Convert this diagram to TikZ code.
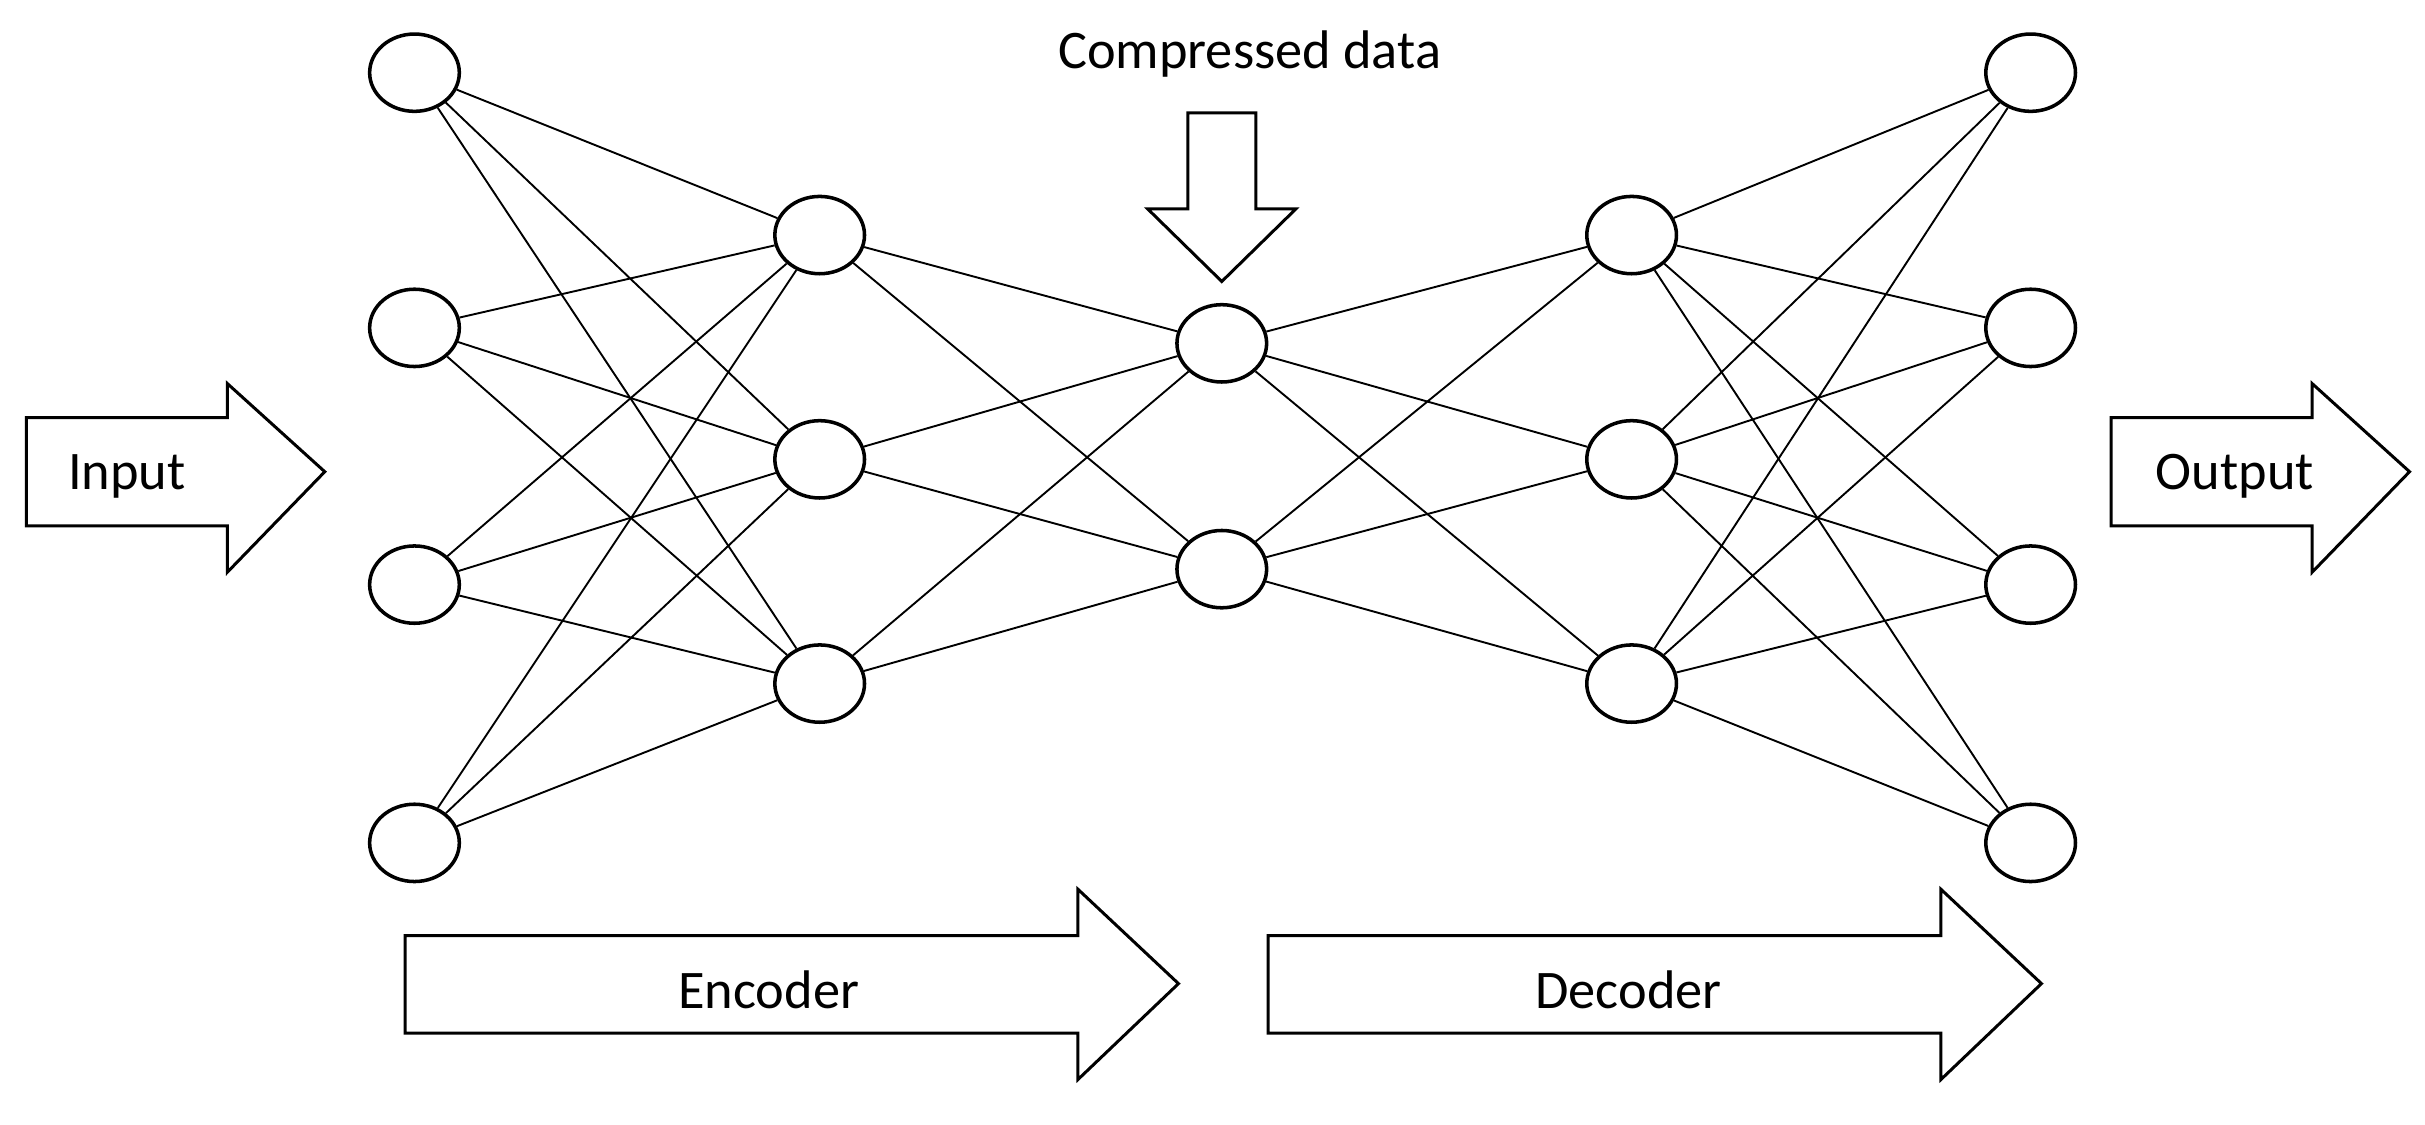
\documentclass[tikz,border=0pt]{standalone}
\usepackage{fontspec}
\setmainfont{Carlito}
\usetikzlibrary{shapes.geometric}
\begin{document}
\begin{tikzpicture}[x=0.02cm,y=-0.02cm,
  neuron/.style={draw,ellipse,line width=1.3pt,minimum width=1.16cm,minimum height=1.0cm,inner sep=0pt},
  edge/.style={line width=0.7pt},
  bigarrow/.style={draw,line width=1.1pt,fill=white},
  lbl/.style={font=\fontsize{20}{24}\selectfont}]
\useasboundingbox (0,0) rectangle (1568,727);
\foreach \y [count=\i] in {47,212,378,545} {\node[neuron] (a\i) at (268,\y) {};}
\foreach \y [count=\i] in {152,297,442} {\node[neuron] (b\i) at (530,\y) {};}
\foreach \y [count=\i] in {222,368} {\node[neuron] (c\i) at (790,\y) {};}
\foreach \y [count=\i] in {152,297,442} {\node[neuron] (d\i) at (1055,\y) {};}
\foreach \y [count=\i] in {47,212,378,545} {\node[neuron] (e\i) at (1313,\y) {};}
\foreach \i in {1,...,4}{\foreach \j in {1,2,3}{\draw[edge] (a\i) -- (b\j);}}
\foreach \i in {1,2,3}{\foreach \j in {1,2}{\draw[edge] (b\i) -- (c\j);}}
\foreach \i in {1,2}{\foreach \j in {1,2,3}{\draw[edge] (c\i) -- (d\j);}}
\foreach \i in {1,2,3}{\foreach \j in {1,...,4}{\draw[edge] (d\i) -- (e\j);}}
% Input
\draw[bigarrow] (17,270) -- (147,270) -- (147,248) -- (210,305) -- (147,370) -- (147,340) -- (17,340) -- cycle;
\node[lbl] (tin) at (82,308) {Input};
% Output
\draw[bigarrow] (1365,270) -- (1495,270) -- (1495,248) -- (1558,305) -- (1495,370) -- (1495,340) -- (1365,340) -- cycle;
\node[lbl] (tout) at (1445,308) {Output};
% Compressed
\draw[bigarrow] (768,73) -- (812,73) -- (812,135) -- (838,135) -- (790,182) -- (742,135) -- (768,135) -- cycle;
\node[lbl] (tcomp) at (808,35) {Compressed data};
% Encoder
\draw[bigarrow] (262,605) -- (697,605) -- (697,575) -- (762,636) -- (697,698) -- (697,668) -- (262,668) -- cycle;
\node[lbl] (tenc) at (497,640) {Encoder};
% Decoder
\draw[bigarrow] (820,605) -- (1255,605) -- (1255,575) -- (1320,636) -- (1255,698) -- (1255,668) -- (820,668) -- cycle;
\node[lbl] (tdec) at (1053,640) {Decoder};
\end{tikzpicture}
\end{document}
